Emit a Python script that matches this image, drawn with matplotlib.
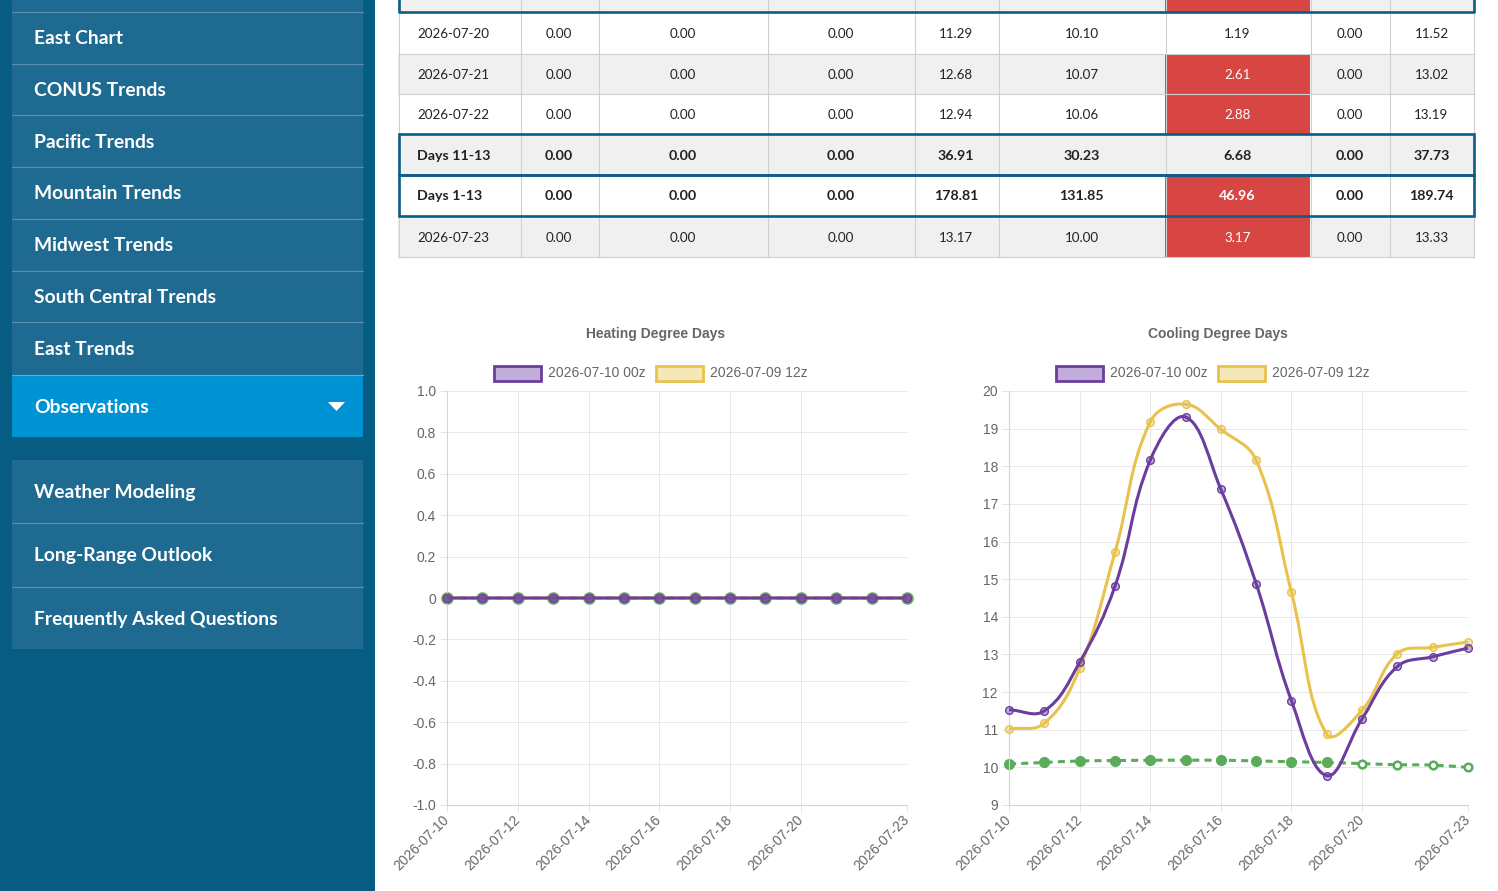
import numpy as np
import matplotlib
matplotlib.use('Agg')
import matplotlib.pyplot as plt
from matplotlib.patches import Rectangle, Polygon, PathPatch
from matplotlib.path import Path

W, H = 1498, 891

# ==========================================
# data
# ==========================================
dates = ['2026-07-10', '2026-07-11', '2026-07-12', '2026-07-13', '2026-07-14',
         '2026-07-15', '2026-07-16', '2026-07-17', '2026-07-18', '2026-07-19',
         '2026-07-20', '2026-07-21', '2026-07-22', '2026-07-23']
tick_idx = [0, 2, 4, 6, 8, 10, 13]

hdd_run_00z = [0.0] * 14
hdd_run_12z = [0.0] * 14
hdd_normal = [0.0] * 14

cdd_run_00z = [11.53, 11.50, 12.79, 14.81, 18.16, 19.31, 17.39, 14.88, 11.77, 9.78,
               11.29, 12.68, 12.94, 13.17]
cdd_run_12z = [11.02, 11.17, 12.63, 15.71, 19.18, 19.65, 18.98, 18.16, 14.65, 10.88,
               11.52, 13.02, 13.19, 13.33]
cdd_normal = [10.09, 10.13, 10.17, 10.18, 10.19, 10.19, 10.19, 10.17, 10.15, 10.13,
              10.10, 10.07, 10.06, 10.00]
n_normal_filled = 10   # last points drawn hollow

hdd_yticks = [-1.0, -0.8, -0.6, -0.4, -0.2, 0, 0.2, 0.4, 0.6, 0.8, 1.0]
hdd_ylabels = ['-1.0', '-0.8', '-0.6', '-0.4', '-0.2', '0', '0.2', '0.4', '0.6', '0.8', '1.0']
cdd_yticks = list(range(9, 21))

legend_labels = ['2026-07-10 00z', '2026-07-09 12z']

menu_items = ['East Chart', 'CONUS Trends', 'Pacific Trends', 'Mountain Trends',
              'Midwest Trends', 'South Central Trends', 'East Trends']
menu_items2 = ['Weather Modeling', 'Long-Range Outlook', 'Frequently Asked Questions']

table_rows = [
    ['2026-07-20', '0.00', '0.00', '0.00', '11.29', '10.10', '1.19', '0.00', '11.52'],
    ['2026-07-21', '0.00', '0.00', '0.00', '12.68', '10.07', '2.61', '0.00', '13.02'],
    ['2026-07-22', '0.00', '0.00', '0.00', '12.94', '10.06', '2.88', '0.00', '13.19'],
    ['Days 11-13', '0.00', '0.00', '0.00', '36.91', '30.23', '6.68', '0.00', '37.73'],
    ['Days 1-13', '0.00', '0.00', '0.00', '178.81', '131.85', '46.96', '0.00', '189.74'],
    ['2026-07-23', '0.00', '0.00', '0.00', '13.17', '10.00', '3.17', '0.00', '13.33'],
]
row_red = [False, True, True, False, True, True]
row_bold = [False, False, False, True, True, False]

# colours
PURPLE = '#6a3d9e'
PURPLE_FILL = (0.42, 0.24, 0.62, 0.4)
YELLOW = '#e8c24c'
YELLOW_FILL = (0.91, 0.76, 0.30, 0.4)
GREEN = '#5aab5a'
SIDE_BG = '#075c84'
SIDE_ITEM = '#1f6a90'
SIDE_ACTIVE = '#0093d4'
RED = '#d84643'
TEXT_GREY = '#666666'
FS = 10.0

plt.rcParams['font.family'] = ['Liberation Sans', 'DejaVu Sans']

fig = plt.figure(figsize=(W / 100, H / 100), dpi=100)
fig.patch.set_facecolor('white')

# background axes in pixel coordinates
bg = fig.add_axes([0, 0, 1, 1])
bg.set_xlim(0, W)
bg.set_ylim(H, 0)
bg.axis('off')

# ==========================================
# sidebar
# ==========================================
bg.add_patch(Rectangle((0, 0), 375, H, color=SIDE_BG, lw=0))
bg.add_patch(Rectangle((12, 0), 351, 375, color=SIDE_ITEM, lw=0))
bg.add_patch(Rectangle((12, 460), 351, 189, color=SIDE_ITEM, lw=0))
for yy in [11.5, 63.5, 114.5, 166.5, 218.5, 270.5, 321.5, 522.5, 586.5]:
    bg.plot([12, 363], [yy, yy], color='#5b8fae', lw=0.8)
bg.add_patch(Rectangle((12, 375), 351, 62, color=SIDE_ACTIVE, lw=0))
bg.plot([12, 363], [375, 375], color='#5aaee0', lw=0.8)

side_font = dict(color='white', fontsize=13.9, fontweight='bold', family='Lato',
                 va='center', ha='left')
item_y = [38.5, 90.5, 142.5, 193.5, 245.5, 297.5, 349.5]
for label, yy in zip(menu_items, item_y):
    bg.text(34, yy, label, **side_font)
bg.text(34, 407.5, 'Observations', **side_font)
bg.add_patch(Polygon([[328, 402], [345, 402], [336.5, 411]], closed=True, color='white', lw=0))
for label, yy in zip(menu_items2, [492.5, 555.5, 619.5]):
    bg.text(34, yy, label, **side_font)

# ==========================================
# table
# ==========================================
col_x = [398, 520, 598, 767, 914, 998, 1165, 1310, 1389, 1474]
row_y = [12, 54, 94, 134, 175, 216, 257]

# partial row at the top
bg.add_patch(Rectangle((398, 0), 1076, 12, color='#f0f0f0', lw=0))
bg.add_patch(Rectangle((1165, 0), 145, 12, color=RED, lw=0))

for r, row in enumerate(table_rows):
    y0, y1 = row_y[r], row_y[r + 1]
    shade = '#f0f0f0' if r % 2 == 1 else 'white'
    bg.add_patch(Rectangle((398, y0), 1076, y1 - y0, color=shade, lw=0))
    if row_red[r]:
        bg.add_patch(Rectangle((col_x[6], y0), col_x[7] - col_x[6], y1 - y0, color=RED, lw=0))
    yc = (y0 + y1) / 2 + 1
    for c, val in enumerate(row):
        color = 'white' if (c == 6 and row_red[r]) else '#222222'
        weight = 'bold' if row_bold[r] else 'normal'
        size = 10.3 if row_bold[r] else 9.6
        if c == 0:
            bg.text(417, yc, val, ha='left', va='center', fontsize=size, fontweight=weight,
                    color=color, family='Lato')
        else:
            bg.text((col_x[c] + col_x[c + 1]) / 2, yc, val, ha='center', va='center',
                    fontsize=size, fontweight=weight, color=color, family='Lato')

for xx in col_x[1:-1]:
    bg.plot([xx + 0.5, xx + 0.5], [0, 257], color='#cfcfcf', lw=0.8)
for yy in row_y[1:]:
    bg.plot([398, 1474], [yy, yy], color='#cfcfcf', lw=0.8)
bg.plot([398.5, 398.5], [0, 257], color='#cfcfcf', lw=0.8)
bg.plot([1473.5, 1473.5], [0, 257], color='#cfcfcf', lw=0.8)

# thick borders around summary rows
BORDER = '#0c5d85'
bg.plot([398.5, 398.5, 1473.5, 1473.5], [0, 12, 12, 0], color=BORDER, lw=1.9, zorder=5)
for y0, y1 in [(134, 175), (175, 216)]:
    bg.add_patch(Rectangle((398.5, y0), 1075, y1 - y0, fill=False, edgecolor=BORDER, lw=1.9,
                           zorder=5))


# ==========================================
# charts
# ==========================================
def smooth_path(xs, ys, sx, sy, t=0.4):
    # chart.js style cubic bezier (tension 0.4), computed in pixel space
    px = np.asarray(xs, float) * sx
    py = np.asarray(ys, float) * sy
    n = len(px)
    cprev, cnext = [], []
    for i in range(n):
        a = max(i - 1, 0)
        b = min(i + 1, n - 1)
        d01 = np.hypot(px[i] - px[a], py[i] - py[a])
        d12 = np.hypot(px[b] - px[i], py[b] - py[i])
        tot = d01 + d12
        s01 = d01 / tot if tot else 0
        s12 = d12 / tot if tot else 0
        fa, fb = t * s01, t * s12
        cprev.append((px[i] - fa * (px[b] - px[a]), py[i] - fa * (py[b] - py[a])))
        cnext.append((px[i] + fb * (px[b] - px[a]), py[i] + fb * (py[b] - py[a])))
    verts = [(px[0], py[0])]
    codes = [Path.MOVETO]
    for i in range(1, n):
        verts += [cnext[i - 1], cprev[i], (px[i], py[i])]
        codes += [Path.CURVE4] * 3
    verts = np.array(verts) / np.array([sx, sy])
    return Path(verts, codes)


def style_axes(ax, yticks, ylabels, ylim):
    ax.set_xlim(0, 13)
    ax.set_ylim(*ylim)
    ax.set_yticks(yticks)
    ax.set_yticklabels(ylabels)
    ax.set_xticks(tick_idx)
    ax.set_xticklabels([dates[i] for i in tick_idx], rotation=45, ha='right', va='center',
                       rotation_mode='anchor')
    ax.tick_params(axis='both', length=5, width=0.72, color='#e4e4e4', labelcolor=TEXT_GREY,
                   labelsize=FS)
    ax.tick_params(axis='y', pad=3)
    ax.tick_params(axis='x', pad=4)
    ax.grid(True, color='#e8e8e8', lw=0.72)
    ax.set_axisbelow(True)
    for s in ['top', 'right']:
        ax.spines[s].set_visible(False)
    for s in ['left', 'bottom']:
        ax.spines[s].set_color('#d4d4d4')
        ax.spines[s].set_linewidth(0.8)


def draw_series(ax, x, y, color, fill, sx, sy, ms, zorder, dashed=False):
    ls = (0, (2.3, 1.7)) if dashed else '-'
    ax.add_patch(PathPatch(smooth_path(x, y, sx, sy), fill=False, edgecolor=color, lw=2.2,
                           linestyle=ls, zorder=zorder, capstyle='butt'))
    ax.plot(x, y, 'o', ms=ms, mfc=fill, mec=color, mew=1.0, ls='none', zorder=zorder + 0.5,
            clip_on=False)


x = np.arange(14)

# heating degree days
ax1 = fig.add_axes([447 / W, (H - 805) / H, 460 / W, 414 / H])
style_axes(ax1, hdd_yticks, hdd_ylabels, (-1.0, 1.0))
sx1, sy1 = 460 / 13, 414 / 2.0
ax1.add_patch(PathPatch(smooth_path(x, hdd_normal, sx1, sy1), fill=False, edgecolor=GREEN,
                        lw=2.2, linestyle=(0, (2.3, 1.7)), zorder=2))
ax1.plot(x, hdd_normal, 'o', ms=8, mfc='#8fc98f', mec=GREEN, ls='none', zorder=2.5, clip_on=False)
draw_series(ax1, x, hdd_run_12z, YELLOW, YELLOW_FILL, sx1, sy1, 6, 3)
draw_series(ax1, x, hdd_run_00z, PURPLE, (0.45, 0.32, 0.62, 0.9), sx1, sy1, 6, 4)

# cooling degree days
ax2 = fig.add_axes([1009 / W, (H - 805) / H, 459 / W, 414 / H])
style_axes(ax2, cdd_yticks, [str(v) for v in cdd_yticks], (9, 20))
sx2, sy2 = 459 / 13, 414 / 11
ax2.add_patch(PathPatch(smooth_path(x, cdd_normal, sx2, sy2), fill=False, edgecolor=GREEN,
                        lw=2.2, linestyle=(0, (2.3, 1.7)), zorder=2))
ax2.plot(x[:n_normal_filled], cdd_normal[:n_normal_filled], 'o', ms=7, mfc=GREEN, mec=GREEN,
         ls='none', zorder=2.5, clip_on=False)
ax2.plot(x[n_normal_filled:], cdd_normal[n_normal_filled:], 'o', ms=5.5, mfc='white', mec=GREEN,
         mew=1.8, ls='none', zorder=2.5, clip_on=False)
draw_series(ax2, x, cdd_run_12z, YELLOW, YELLOW_FILL, sx2, sy2, 5.5, 3)
draw_series(ax2, x, cdd_run_00z, PURPLE, PURPLE_FILL, sx2, sy2, 5.5, 4)

# titles and legends (pixel coordinates)
for cx, title, lx in [(656, 'Heating Degree Days', 494), (1218, 'Cooling Degree Days', 1056)]:
    bg.text(cx, 334, title, ha='center', va='center', fontsize=FS, fontweight='bold',
            color=TEXT_GREY)
    bg.add_patch(Rectangle((lx, 366), 47, 15, facecolor='#c2acd9', edgecolor=PURPLE, lw=2.0))
    bg.text(lx + 54, 373, legend_labels[0], ha='left', va='center', fontsize=FS,
            color=TEXT_GREY)
    bg.add_patch(Rectangle((lx + 162, 366), 47, 15, facecolor='#f5e7b8', edgecolor=YELLOW, lw=2.0))
    bg.text(lx + 216, 373, legend_labels[1], ha='left', va='center', fontsize=FS,
            color=TEXT_GREY)

fig.savefig('out.png', dpi=100)
